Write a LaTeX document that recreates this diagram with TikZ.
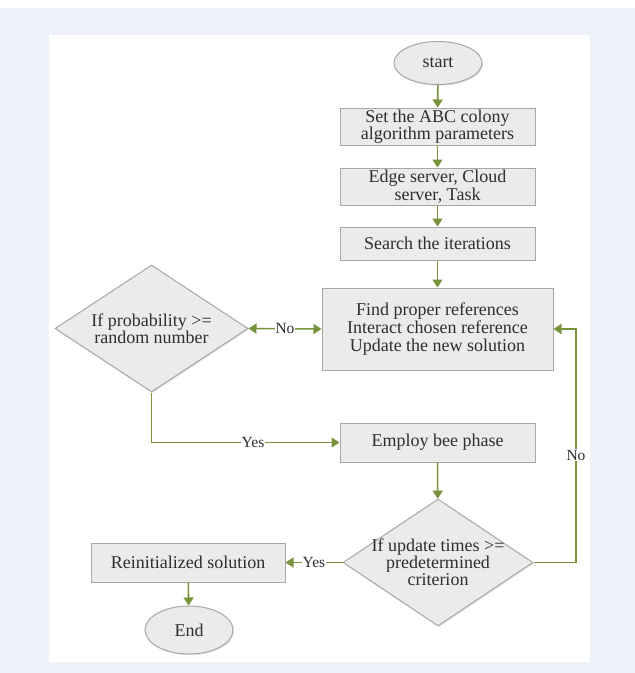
\documentclass[tikz,border=0pt]{standalone}
\usepackage{fontspec}
\setmainfont{Liberation Serif}
\usetikzlibrary{shapes.geometric,arrows.meta,shadows}
\definecolor{pagebg}{HTML}{EDF1F8}
\definecolor{boxfill}{HTML}{EBEBEB}
\definecolor{boxline}{HTML}{A8A8A0}
\definecolor{flow}{HTML}{77933C}
\definecolor{ink}{HTML}{2E2E2E}
\tikzset{
  softshadow/.style={drop shadow={shadow xshift=1pt,shadow yshift=-1.2pt,opacity=0.22}},
  procbox/.style={draw=boxline, line width=1pt, fill=boxfill, align=center, text=ink,
    font=\fontsize{18}{16}\selectfont, inner sep=0pt, softshadow},
  termnode/.style={ellipse, draw=boxline, line width=1pt, fill=boxfill, text=ink,
    font=\fontsize{18}{16}\selectfont, inner sep=0pt, softshadow},
  decnode/.style={diamond, draw=boxline, line width=1pt, fill=boxfill, inner sep=0pt,
    softshadow},
  dectext/.style={align=center, text=ink, font=\fontsize{18}{17}\selectfont},
  flowline/.style={draw=flow, line width=1.6pt},
  flowarrow/.style={flowline, -{Triangle[length=8pt,width=10pt]}},
  edgelabel/.style={fill=white, text=ink, inner sep=1pt, font=\fontsize{15.5}{17}\selectfont}
}
\begin{document}
\begin{tikzpicture}[x=1pt,y=-1pt]
  % page background and white panel
  \fill[pagebg] (0,0) rectangle (635,673);
  \fill[white] (0,0) rectangle (635,8);
  \fill[white] (49,35) rectangle (590,662);
  \useasboundingbox (0,0) rectangle (635,673);

  % main column
  \node[termnode, minimum width=88pt, minimum height=43pt] (start) at (438,63) {start};
  \node[procbox, minimum width=195pt, minimum height=37pt] (b1) at (437.5,126.5)
    {Set the ABC colony\\algorithm parameters};
  \node[procbox, minimum width=195pt, minimum height=37pt] (b2) at (437.5,186.5)
    {Edge server, Cloud\\server, Task};
  \node[procbox, minimum width=195pt, minimum height=33pt] (b3) at (437.5,243.5)
    {Search the iterations};
  \node[procbox, minimum width=231pt, minimum height=82pt, font=\fontsize{18}{18.3}\selectfont] (b4) at (437.5,329)
    {Find proper references\\Interact chosen reference\\Update the new solution};
  \node[procbox, minimum width=195pt, minimum height=39pt] (emp) at (437.5,442.5)
    {Employ bee phase};

  % decisions
  \node[decnode, minimum width=193pt, minimum height=127pt] (d1) at (151.5,328.5) {};
  \node[dectext] at (d1.center) {If probability >=\\random number};
  \node[decnode, minimum width=190pt, minimum height=127pt] (d2) at (438,562.5) {};
  \node[dectext] at (d2.center) {If update times >=\\predetermined\\criterion};

  % exit branch
  \node[procbox, minimum width=194pt, minimum height=39pt] (re) at (188,562.5)
    {Reinitialized solution};
  \node[termnode, minimum width=88pt, minimum height=48pt] (end) at (189,630) {End};

  \coordinate (loop) at (576,0);

  % connectors
  \draw[flowarrow] (start) -- (b1);
  \draw[flowarrow] (b1) -- (b2);
  \draw[flowarrow] (b2) -- (b3);
  \draw[flowarrow] (b3) -- (b4);
  \draw[flowline, {Triangle[length=8pt,width=10pt]}-{Triangle[length=8pt,width=10pt]}]
    (d1.east) -- node[edgelabel] {No} (b4.west);
  \draw[flowarrow] (d1.south) -- (d1.south |- emp.west)
    -- node[edgelabel, pos=0.54] {Yes} (emp.west);
  \draw[flowarrow] (emp) -- (d2);
  \draw[flowarrow] (d2.east) -- (d2.east -| loop)
    -- node[edgelabel, pos=0.46] {No} (loop |- b4.east) -- (b4.east);
  \draw[flowarrow] (d2.west) -- node[edgelabel] {Yes} (re.east);
  \draw[flowarrow] (re) -- (end);
\end{tikzpicture}
\end{document}
